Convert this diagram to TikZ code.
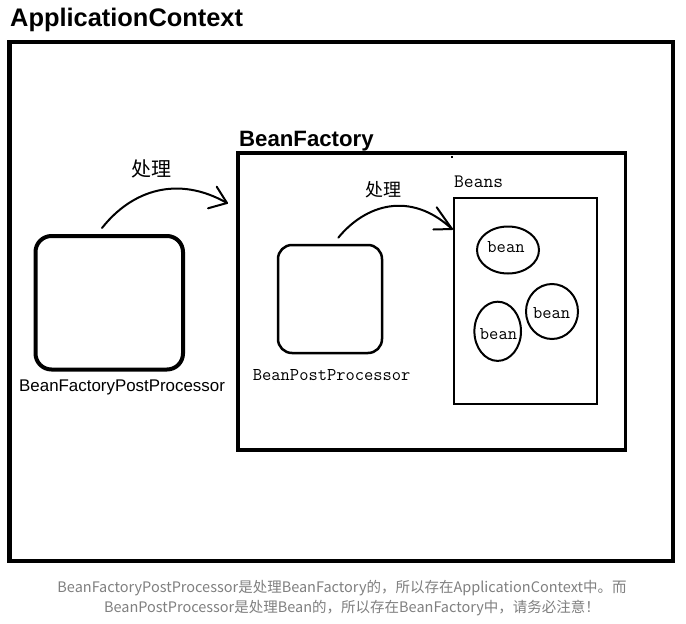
\documentclass[tikz,border=0pt]{standalone}
\usepackage{fontspec}
\newfontfamily\arialf{Liberation Sans}
\newfontfamily\cjkf{Noto Sans CJK SC}
\newfontfamily\monof{Latin Modern Mono}
\usetikzlibrary{shapes.geometric}
\definecolor{capgray}{RGB}{128,128,128}
\tikzset{
  frame/.style={draw, inner sep=0pt, outer sep=0pt},
  rbox/.style={draw, inner sep=0pt, outer sep=0pt},
  beanell/.style={draw, ellipse, inner sep=0pt, outer sep=0pt, line width=2pt},
  titletext/.style={inner sep=0pt, anchor=base west, font=\arialf\bfseries\fontsize{25.4}{30}\selectfont},
  subtitle/.style={inner sep=0pt, anchor=base west, font=\arialf\bfseries\fontsize{22.2}{26}\selectfont},
  sanslabel/.style={inner sep=0pt, anchor=base west, font=\arialf\fontsize{16.9}{20}\selectfont},
  monolabel/.style={inner sep=0pt, anchor=base west, font=\monof\fontsize{18}{22}\selectfont},
  beantext/.style={inner sep=0pt, anchor=base, font=\monof\fontsize{18}{22}\selectfont},
  cjklabel/.style={inner sep=0pt, anchor=center, font=\cjkf\fontsize{#1}{#1}\selectfont},
  conn/.style={line width=2pt, line cap=round, line join=round},
  caption/.style={inner sep=0pt, anchor=base, text=capgray, font=\cjkf\fontsize{14.5}{18}\selectfont},
}
\begin{document}
\begin{tikzpicture}[x=1pt, y=-1pt]
\useasboundingbox (0,0) rectangle (686,624);
\fill[white] (0,0) rectangle (686,624);

% title
\node[titletext] (title) at (10,26.7) {ApplicationContext};
% outer frame
\node[frame, line width=4.3pt, minimum width=663.5, minimum height=519] (outer) at (341.25,301.5) {};

% BeanFactory
\node[subtitle] (bftitle) at (239,146) {BeanFactory};
\node[frame, line width=3.7pt, minimum width=387.5, minimum height=297] (bf) at (431.75,301.5) {};
\fill (450.7,156) rectangle (453.3,157.5);

% BeanFactoryPostProcessor
\node[rbox, line width=4pt, rounded corners=16pt, minimum width=147.5, minimum height=133.5] (bfpp) at (109.25,302.75) {};
\node[sanslabel] (bfpplabel) at (19,391.5) {BeanFactoryPostProcessor};

% BeanPostProcessor
\node[rbox, line width=2.5pt, rounded corners=14pt, minimum width=104, minimum height=108] (bpp) at (330,299) {};
\node[monolabel] (bpplabel) at (252.7,380) {BeanPostProcessor};

% Beans box
\node[monolabel, font=\monof\fontsize{19}{22}\selectfont] (beanslabel) at (454,187) {Beans};
\node[frame, line width=2pt, minimum width=143.5, minimum height=206] (beans) at (525.25,301) {};

% bean ellipses
\node[beanell, minimum width=62, minimum height=47] (e1) at (508,250) {};
\node[beantext] (t1) at (506,252.7) {bean};
\node[beanell, minimum width=52, minimum height=55] (e2) at (552,311.5) {};
\node[beantext] (t2) at (551.7,318.3) {bean};
\node[beanell, minimum width=46.6, minimum height=59.2] (e3) at (497.7,331.3) {};
\node[beantext] (t3) at (498.5,339) {bean};

% arrow 1
\coordinate (a1s) at (102,228);
\coordinate (a1e) at (227,203);
\draw[conn] (a1s) .. controls (132,190) and (178,175) .. (a1e);
\draw[conn] (216.7,186.7) -- (a1e) -- (208,208.3);
\node[cjklabel=20] (l1) at (151,168.7) {处理};

% arrow 2
\coordinate (a2s) at (338.3,237.7);
\coordinate (a2e) at (452,229);
\draw[conn] (a2s) .. controls (365,205) and (410,190) .. (a2e);
\draw[conn] (436.7,207.3) -- (a2e) -- (433.3,229.5);
\node[cjklabel=18] (l2) at (383.5,190) {处理};

% caption
\node[caption] (c1) at (342,592) {BeanFactoryPostProcessor是处理BeanFactory的，所以存在ApplicationContext中。而};
\node[caption] (c2) at (352,612) {BeanPostProcessor是处理Bean的，所以存在BeanFactory中，请务必注意！};
\end{tikzpicture}
\end{document}
